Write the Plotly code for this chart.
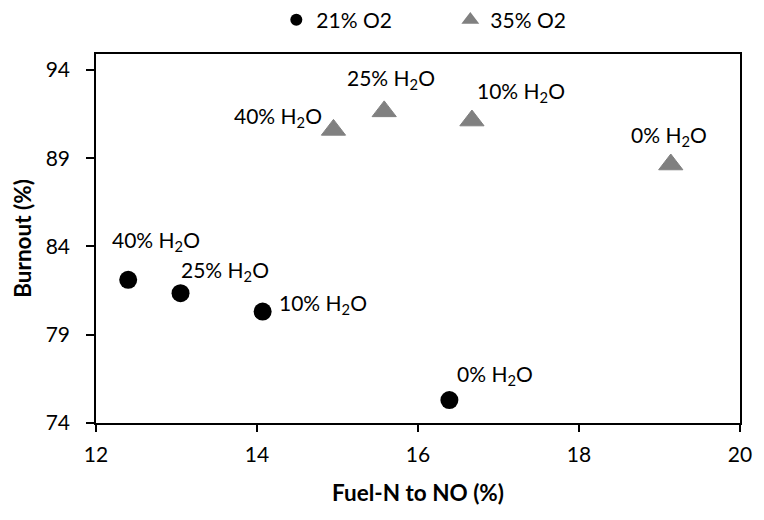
import plotly.graph_objects as go

# Fuel-N conversion (%) and burnout (%) per O2 level; labels give H2O share
fuel_n_21 = [12.40, 13.05, 14.07, 16.39]
burnout_21 = [82.11, 81.35, 80.31, 75.30]
h2o_21 = ["40%", "25%", "10%", "0%"]

fuel_n_35 = [14.95, 15.58, 16.67, 19.14]
burnout_35 = [90.60, 91.65, 91.13, 88.64]
h2o_35 = ["40%", "25%", "10%", "0%"]

series_names = ["21% O2", "35% O2"]
x_ticks = [12, 14, 16, 18, 20]
y_ticks = [74, 79, 84, 89, 94]

# pixel offsets of the data labels from their points (right, up)
label_shift_21 = [(28, 39), (44, 22), (60, 8), (46, 25)]
label_shift_35 = [(-55, 13), (7, 32), (49, 29), (-2, 29)]

FONT = "Lato"
FS = 21
TITLE_FS = 22.5
fig = go.Figure()
fig.add_trace(go.Scatter(
    x=fuel_n_21, y=burnout_21, mode="markers", name=series_names[0],
    marker=dict(symbol="circle", size=18, color="#000000"),
))
fig.add_trace(go.Scatter(
    x=fuel_n_35, y=burnout_35, mode="markers", name=series_names[1],
    marker=dict(symbol="triangle-up", size=21, color="#808080",
                line=dict(width=1, color="#808080")),
))

annotations = []
for xs, ys, labs, shifts in [(fuel_n_21, burnout_21, h2o_21, label_shift_21),
                             (fuel_n_35, burnout_35, h2o_35, label_shift_35)]:
    for x, y, lab, (dx, dy) in zip(xs, ys, labs, shifts):
        annotations.append(dict(
            x=x, y=y, xref="x", yref="y", text=f"{lab} H<sub>2</sub>O",
            showarrow=False, xshift=dx, yshift=dy,
            font=dict(family=FONT, size=FS, color="#000000"),
        ))

fig.update_layout(
    width=764, height=520,
    margin=dict(l=96, r=16, t=52, b=97),
    paper_bgcolor="white", plot_bgcolor="white",
    font=dict(family=FONT, size=FS, color="#000000"),
    annotations=annotations,
    legend=dict(
        orientation="h", x=0.28, xanchor="left",
        yref="container", y=1 - 20 / 520, yanchor="middle",
        itemsizing="constant", entrywidth=129,
        font=dict(family=FONT, size=FS), bgcolor="rgba(0,0,0,0)",
    ),
    xaxis=dict(
        range=[12, 20], tickvals=x_ticks, showgrid=False, zeroline=False,
        showline=True, linecolor="#000000", linewidth=1.5, mirror=True,
        ticks="outside", ticklen=7, tickcolor="#000000", tickwidth=1.5,
        ticklabelstandoff=5,
        title=dict(text="<b>Fuel-N to NO (%)</b>", standoff=20,
                   font=dict(family=FONT, size=TITLE_FS)),
    ),
    yaxis=dict(
        range=[74, 94.9], tickvals=y_ticks, showgrid=False, zeroline=False,
        showline=True, linecolor="#000000", linewidth=1.5, mirror=True,
        ticks="outside", ticklen=8, tickcolor="#000000", tickwidth=1.5,
        ticklabelstandoff=12,
        title=dict(text="<b>Burnout (%)</b>", standoff=8,
                   font=dict(family=FONT, size=TITLE_FS)),
    ),
)

fig.write_html("out.html")
